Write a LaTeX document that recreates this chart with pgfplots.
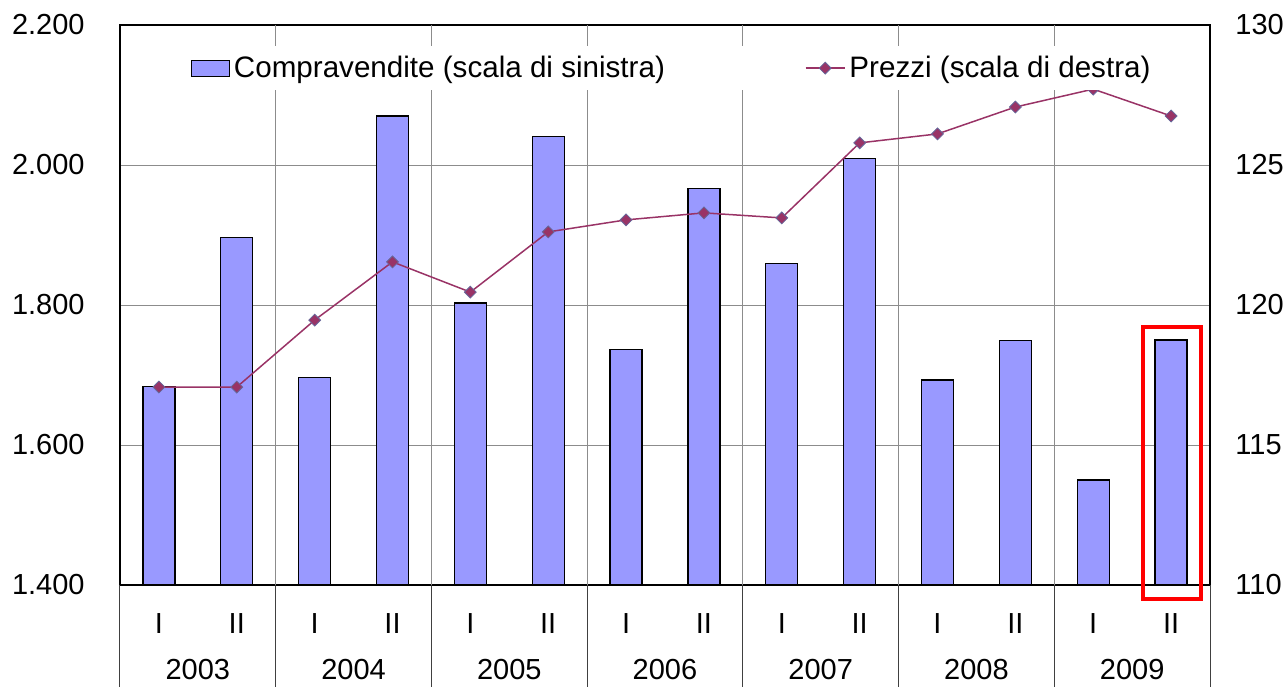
\documentclass[border=0pt]{standalone}
\usepackage{fontspec}
\setmainfont{Liberation Sans}
\usepackage{pgfplots}
\pgfplotsset{compat=1.18}

\definecolor{barfill}{HTML}{9999FF}
\definecolor{prezzi}{HTML}{993366}
\definecolor{mkborder}{HTML}{666699}
\newcommand{\chartfont}{\fontsize{14.5}{17}\selectfont}
\newcommand{\legfont}{\fontsize{14.8}{17}\selectfont}

\pgfplotsset{
  barlegend/.style={legend image code/.code={\draw[##1] (0pt,-4pt) rectangle (19pt,4pt);}},
  linelegend/.style={legend image code/.code={\draw[mark repeat=2,mark phase=2,##1] plot coordinates {(0pt,0pt) (9.75pt,0pt) (19.5pt,0pt)};}},
}

\begin{document}
\begin{tikzpicture}
\useasboundingbox (-60pt,-51pt) rectangle (583.5pt,292.5pt);
\pgfplotsset{
  every axis/.append style={
    at={(0pt,0pt)}, anchor=south west, scale only axis,
    width=545pt, height=280pt,
    xmin=-0.5, xmax=13.5,
    major tick length=0pt,
    tick label style={font=\chartfont, inner sep=0pt},
    /pgf/number format/assume math mode=true,
    /pgf/number format/1000 sep={.},
  }
}
% compravendite (scala di sinistra)
\begin{axis}[
  axis line style={line width=0.7pt},
  ymin=1400, ymax=2200, ytick distance=200,
  ymajorgrids, grid style={gray!90, line width=0.5pt},
  xtick={0,...,13},
  xticklabels={I,II,I,II,I,II,I,II,I,II,I,II,I,II},
  xticklabel style={anchor=base, yshift=-24pt},
  yticklabel style={anchor=east, xshift=-17.5pt},
  ybar, bar width=16pt,
  clip mode=individual,
]
\addplot[fill=barfill, draw=black, line width=0.6pt] coordinates {
  (0,1684) (1,1897) (2,1697) (3,2070) (4,1803) (5,2041) (6,1737)
  (7,1966) (8,1859) (9,2009) (10,1693) (11,1749) (12,1550) (13,1750)
};
% griglia verticale tra gli anni
\pgfplotsinvokeforeach{1.5,3.5,5.5,7.5,9.5,11.5}{
  \draw[gray!90, line width=0.5pt] (axis cs:#1,1400) -- (axis cs:#1,2200);
}
% separatori sotto l'asse
\pgfplotsinvokeforeach{-0.5,1.5,3.5,5.5,7.5,9.5,11.5,13.5}{
  \draw[black!75, line width=0.5pt] (axis cs:#1,1400) -- ++(0pt,-51pt);
}
\node[font=\chartfont, anchor=base, yshift=-47pt] at (axis cs:0.5,1400) {2003};
\node[font=\chartfont, anchor=base, yshift=-47pt] at (axis cs:2.5,1400) {2004};
\node[font=\chartfont, anchor=base, yshift=-47pt] at (axis cs:4.5,1400) {2005};
\node[font=\chartfont, anchor=base, yshift=-47pt] at (axis cs:6.5,1400) {2006};
\node[font=\chartfont, anchor=base, yshift=-47pt] at (axis cs:8.5,1400) {2007};
\node[font=\chartfont, anchor=base, yshift=-47pt] at (axis cs:10.5,1400) {2008};
\node[font=\chartfont, anchor=base, yshift=-47pt] at (axis cs:12.5,1400) {2009};
% evidenziazione
\draw[red, line width=2pt] (axis cs:12.64,1380) rectangle (axis cs:13.38,1769);
\end{axis}

% prezzi (scala di destra)
\begin{axis}[
  ymin=110, ymax=130, ytick distance=5,
  axis y line*=right, axis x line=none,
  y axis line style={draw=none},
  yticklabel style={anchor=west, xshift=12.5pt},
  legend columns=2,
  legend style={
    at={(0.507,0.923)}, anchor=center,
    draw=none, fill=white, inner sep=3pt,
    font=\legfont,
    /tikz/every even column/.append style={column sep=68pt},
  },
]
\addlegendimage{barlegend, fill=barfill, draw=black, line width=0.6pt}
\addlegendentry{Compravendite (scala di sinistra)}
\addplot[linelegend, prezzi, line width=0.75pt, mark=square*, mark size=2.1pt,
  mark options={rotate=45, fill=prezzi, draw=mkborder, line width=0.4pt}] coordinates {
  (0,117.07) (1,117.07) (2,119.46) (3,121.54) (4,120.46) (5,122.61) (6,123.04)
  (7,123.29) (8,123.11) (9,125.79) (10,126.11) (11,127.07) (12,127.71) (13,126.75)
};
\addlegendentry{Prezzi (scala di destra)}
\end{axis}
\end{tikzpicture}
\end{document}
